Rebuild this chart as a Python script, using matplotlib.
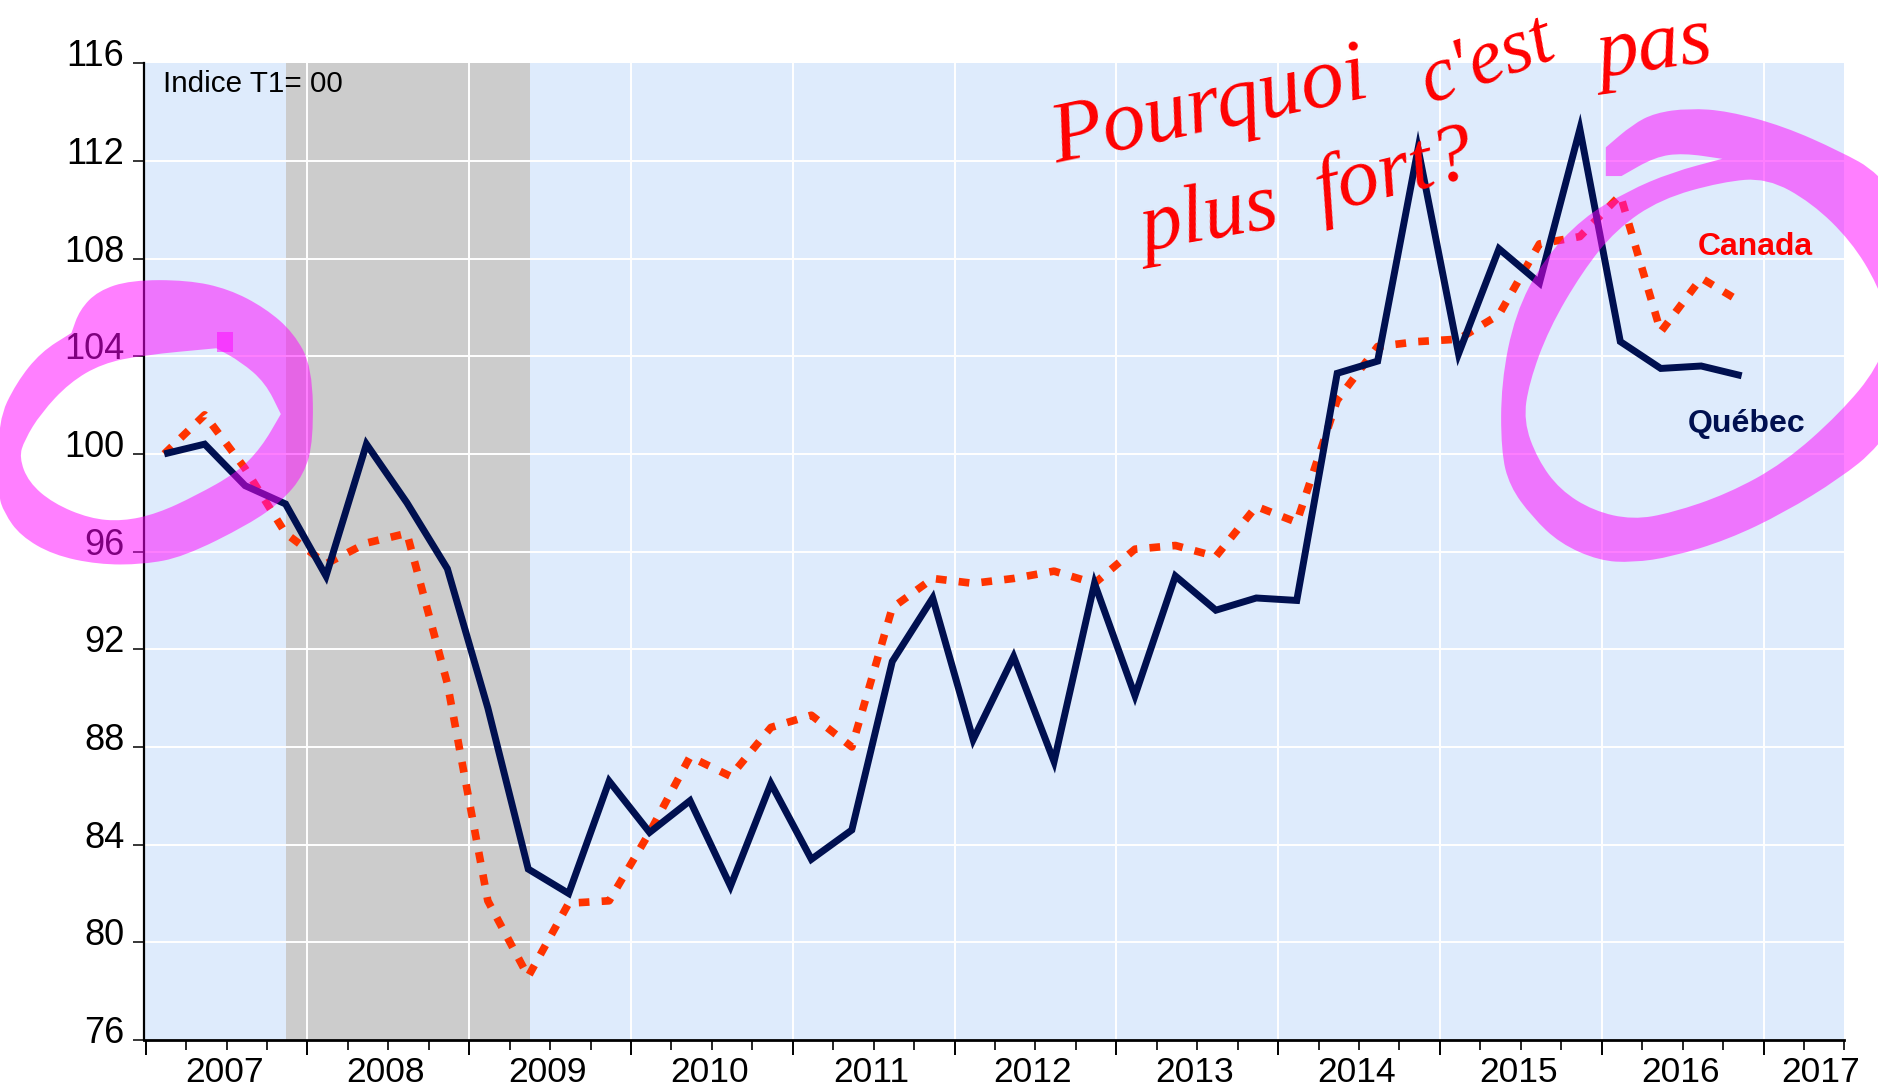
import numpy as np
import matplotlib
matplotlib.use('Agg')
import matplotlib.pyplot as plt
from matplotlib.path import Path
from matplotlib.patches import PathPatch, Rectangle
from matplotlib.transforms import ScaledTranslation

plt.rcParams['font.family'] = ['Liberation Sans', 'DejaVu Sans']

W, H = 1878, 1090

quebec = [100, 100.4, 98.7, 97.95, 95, 100.4, 98, 95.3, 89.6, 83,
          82, 86.6, 84.5, 85.8, 82.3, 86.5, 83.4, 84.6, 91.5, 94.1,
          88.3, 91.7, 87.4, 94.7, 90.1, 95, 93.6, 94.1, 94, 103.3,
          103.8, 112.5, 104.1, 108.4, 107, 113.3, 104.6, 103.5, 103.6, 103.2]
canada = [100, 101.6, 99.4, 96.75, 95.5, 96.35, 96.75, 90.6, 81.7, 78.6,
          81.6, 81.7, 84.5, 87.6, 86.8, 88.8, 89.3, 88, 93.7, 94.9,
          94.7, 94.9, 95.2, 94.7, 96.1, 96.25, 95.8, 97.85, 97.2, 102.2,
          104.4, 104.6, 104.7, 105.7, 108.6, 108.9, 110.6, 105, 107.2, 106.2]
quarters = [2007.115 + 0.25 * i for i in range(len(quebec))]
years = list(range(2007, 2018))
yticks = list(range(76, 117, 4))
recession = (2007.865, 2009.375)

# pink marker strokes, pixels read from the zoomed crops
# a repeated point keeps a sharp corner in the rounded outline
left_outer = [(175, 870), (175, 870), (195, 810), (240, 760), (320, 732), (460, 732), (560, 755), (650, 805),
              (720, 870), (765, 960), (768, 1150), (745, 1240), (690, 1310), (610, 1370), (450, 1455),
              (350, 1475), (240, 1475), (130, 1450), (50, 1400), (10, 1340), (-5, 1290), (-5, 1100),
              (40, 1000), (100, 920), (175, 870)]
left_inner = [(530, 910), (530, 910), (350, 928), (250, 950), (170, 1000), (100, 1080), (60, 1150), (47, 1195),
              (70, 1260), (130, 1315), (220, 1355), (300, 1362), (385, 1342), (480, 1295), (580, 1235),
              (640, 1170), (688, 1082), (688, 1082), (650, 1000), (590, 945), (530, 910)]
right_outer = [(1082, 385), (1082, 385), (1130, 325), (1170, 295), (1230, 283), (1300, 290), (1400, 330), (1500, 395),
               (1568, 450), (1650, 600), (1690, 800), (1650, 1000), (1568, 1170), (1500, 1250), (1400, 1340),
               (1300, 1410), (1200, 1455), (1130, 1470), (1070, 1465), (1000, 1420), (950, 1350), (910, 1270),
               (895, 1180), (895, 1000), (920, 820), (970, 680), (1040, 570), (1120, 500), (1200, 450),
               (1290, 415), (1290, 415), (1220, 400), (1170, 410), (1110, 460), (1110, 460), (1082, 460), (1082, 460),
               (1082, 385)]
right_inner = [(1370, 465), (1290, 475), (1180, 520), (1100, 600), (1040, 710), (980, 860), (945, 1000),
               (935, 1100), (960, 1200), (1000, 1280), (1060, 1335), (1130, 1358), (1200, 1340), (1300, 1290),
               (1400, 1210), (1500, 1080), (1568, 960), (1590, 850), (1568, 745), (1520, 630), (1450, 530),
               (1370, 465)]


def fig_xy(px, py):
    return px / W, 1 - py / H


# rounded loop: vertices become control points, midpoints lie on the curve
def loop(points):
    pts = [np.array(p, float) for p in points[:-1]]
    n = len(pts)
    verts = [(pts[-1] + pts[0]) / 2]
    codes = [Path.MOVETO]
    for i in range(n):
        verts += [pts[i], (pts[i] + pts[(i + 1) % n]) / 2]
        codes += [Path.CURVE3, Path.CURVE3]
    return verts, codes


def ring(outer, inner, sx, sy, ox=0):
    v1, c1 = loop(outer)
    v2, c2 = loop(inner)
    pts = [fig_xy(x / sx + ox, y / sy) for x, y in v1 + v2]
    return Path(pts, c1 + c2)


fig = plt.figure(figsize=(W / 100, H / 100), dpi=100)
ax = fig.add_axes([144 / W, 1 - 1040 / H, (1844.4 - 144) / W, (1040 - 63.2) / H])
ax.set_facecolor('#DEEBFC')
ax.set_xlim(2006.99, 2017.5)
ax.set_ylim(76, 116)

ax.axvspan(recession[0], recession[1], color='#CCCCCC', lw=0, zorder=1)
for x in years[1:]:
    ax.axvline(x, color='white', lw=1.4, zorder=2)
for y in yticks[1:-1]:
    ax.axhline(y, color='white', lw=1.4, zorder=2)

ax.plot(quarters, canada, color='#FF3300', lw=5.5, linestyle=(0, (1.4, 1.6)), dash_capstyle='butt', zorder=3)
ax.plot(quarters, quebec, color='#001050', lw=5, solid_joinstyle='miter', solid_capstyle='butt', zorder=4)

for s in ['top', 'right']:
    ax.spines[s].set_visible(False)
ax.spines['left'].set_linewidth(1.6)
ax.spines['bottom'].set_linewidth(2)

ax.set_yticks(yticks)
ax.tick_params(axis='y', length=8, width=1.1, labelsize=26, pad=7)
offset = ScaledTranslation(0.8 / 72, 7.5 / 72, fig.dpi_scale_trans)
for lab in ax.get_yticklabels():
    lab.set_transform(lab.get_transform() + offset)

ax.set_xticks(years)
ax.set_xticklabels([])
ax.set_xticks([y + q for y in years[:-1] for q in (0.25, 0.5, 0.75)] + [2017.25, 2017.5], minor=True)
ax.tick_params(axis='x', which='major', length=11, width=1.4)
ax.tick_params(axis='x', which='minor', length=7, width=1.2)
for y in years:
    xpos = y + 0.485 if y < 2017 else y + 0.355
    ax.text(xpos, -0.0435, str(y), transform=ax.get_xaxis_transform(), ha='center', va='baseline', fontsize=25.5)

ax.text(2007.11, 115.15, 'Indice T1= 00', fontsize=21.3, ha='left', va='center', color='black', zorder=5)
ax.text(2016.95, 108.48, 'Canada', fontsize=23, fontweight='bold', color='#FF0000', ha='center', va='center', zorder=5)
ax.text(2016.895, 101.22, 'Québec', fontsize=23, fontweight='bold', color='#001050', ha='center', va='center', zorder=5)

# marker on top of everything, tick labels included
for path in (ring(left_outer, left_inner, 2.45, 2.613),
             ring(right_outer, right_inner, 1.786, 2.613, ox=1000)):
    fig.add_artist(PathPatch(path, facecolor='#FF00FF', edgecolor='none', alpha=0.5,
                             transform=fig.transFigure, zorder=10))
x0, y0 = fig_xy(217, 352)
fig.add_artist(Rectangle((x0, y0), 16 / W, 20 / H, facecolor='#FF00FF', edgecolor='none', alpha=0.5,
                         transform=fig.transFigure, zorder=10))

# handwritten note
note = [('Pourquoi', 1210, 110, 62, 12), ("c'est", 1487, 62, 56, 20), ('pas', 1655, 50, 60, 8),
        ('plus', 1210, 220, 60, 10), ('fort?', 1395, 175, 60, 14)]
for word, px, py, size, rot in note:
    fx, fy = fig_xy(px, py)
    fig.text(fx, fy, word, family=['Liberation Serif'], style='italic', fontsize=size, color='#FF0000',
             rotation=rot, ha='center', va='center', zorder=11)

plt.savefig('out.png', dpi=100)
